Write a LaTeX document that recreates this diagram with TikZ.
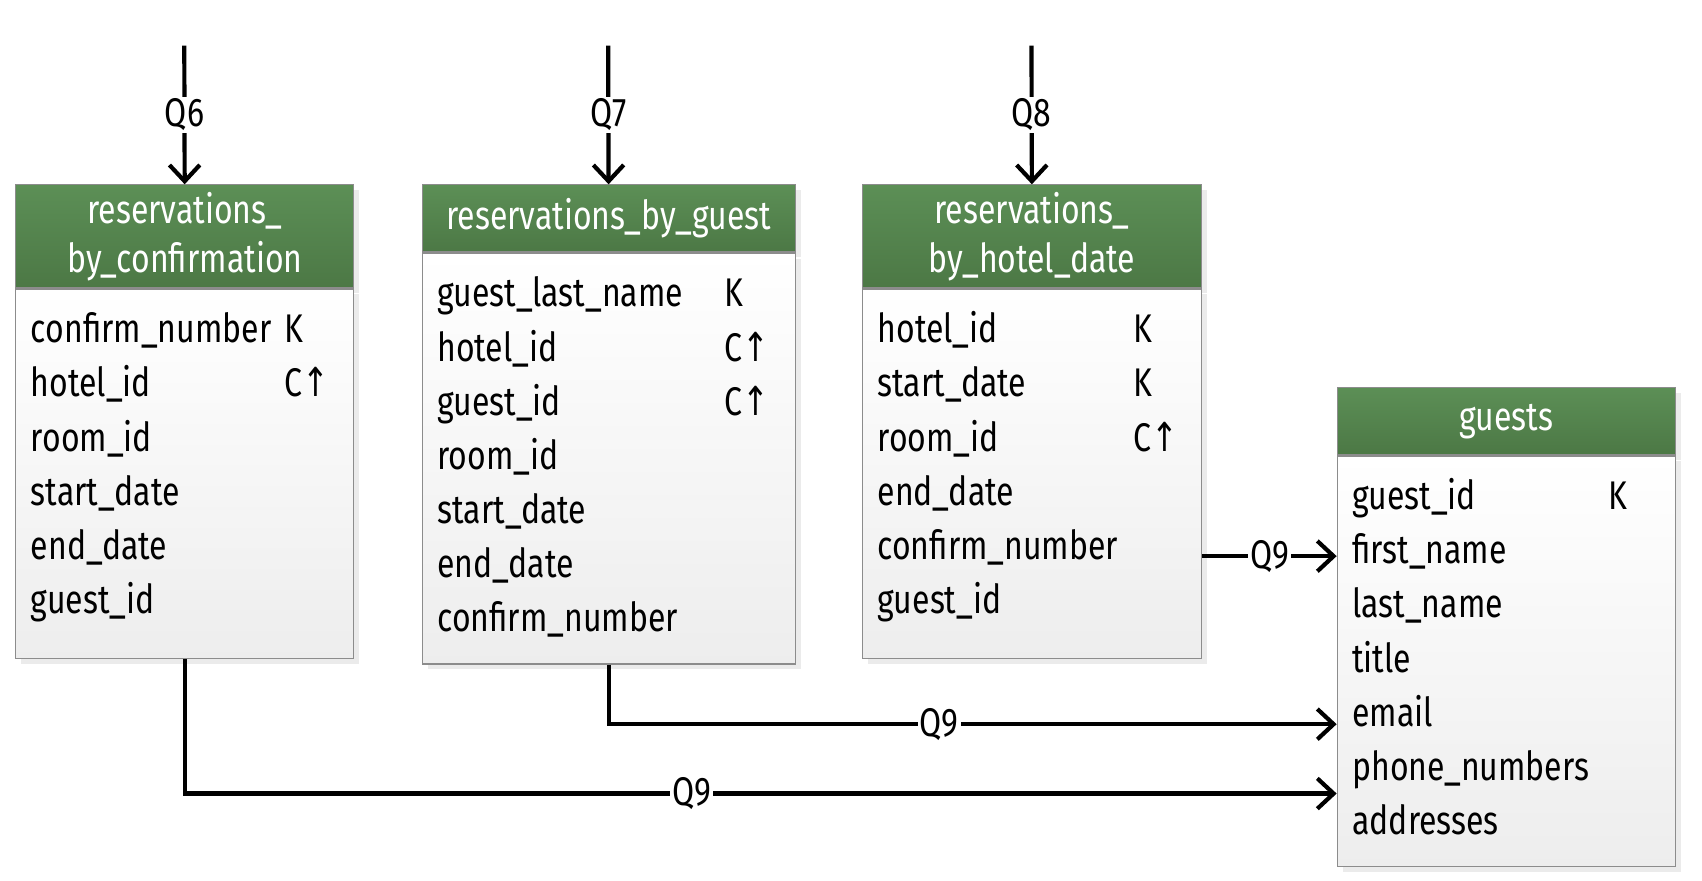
\documentclass[tikz,border=0pt]{standalone}
\usepackage{fontspec}
\setmainfont{Fira Sans}[FakeStretch=0.8]
\newfontfamily\arrowfont{DejaVu Sans}[FakeStretch=0.8]
\usepackage{array}
\usetikzlibrary{positioning,arrows.meta,shadows}
\definecolor{headtop}{HTML}{5C8F56}
\definecolor{headbottom}{HTML}{4C7845}
\begin{document}
\begin{tikzpicture}[
  x=0.02cm, y=-0.02cm,
  font=\fontsize{21}{28.45}\selectfont,
  tablehead/.style={draw=black!45, line width=0.6pt, top color=headtop, bottom color=headbottom,
    text=white, align=center, anchor=north west, inner sep=0pt, minimum height=1.24cm,
    font=\fontsize{21}{25.6}\selectfont,
    general shadow={fill=black!8, shadow xshift=0.1cm, shadow yshift=-0.1cm}},
  tablebody/.style={draw=black!45, line width=0.6pt, top color=white, bottom color=black!7,
    inner xsep=0.28cm, inner ysep=0.29cm,
    general shadow={fill=black!8, shadow xshift=0.1cm, shadow yshift=-0.1cm}},
  conn/.style={line width=2.2pt, -{Straight Barb[length=0.3cm, width=0.56cm, line width=2.2pt]}},
  qlabel/.style={fill=white, inner sep=1pt}
  ]

  \useasboundingbox (0,0) rectangle (1570,812);

  % Tables
  \node (confhead) [tablehead, minimum width=6.24cm, minimum height=1.9cm] at (14,170)
    {reservations\_\\by\_confirmation};
  \node (confbody) [tablebody, minimum width=6.24cm, below=0pt of confhead]
    {\begin{tabular}{@{}p{4.68cm}@{}p{1cm}@{}}
      confirm\_number & K\\
      hotel\_id & C{\arrowfont ↑}\\
      room\_id & \\
      start\_date & \\
      end\_date & \\
      guest\_id & \\[0.24cm]
    \end{tabular}};

  \node (rghead) [tablehead, minimum width=6.88cm] at (389,170) {reservations\_by\_guest};
  \node (rgbody) [tablebody, minimum width=6.88cm, below=0pt of rghead]
    {\begin{tabular}{@{}p{5.3cm}@{}p{1.02cm}@{}}
      guest\_last\_name & K\\
      hotel\_id & C{\arrowfont ↑}\\
      guest\_id & C{\arrowfont ↑}\\
      room\_id & \\
      start\_date & \\
      end\_date & \\
      confirm\_number & \\
    \end{tabular}};

  \node (hdhead) [tablehead, minimum width=6.26cm, minimum height=1.9cm] at (795,170)
    {reservations\_\\by\_hotel\_date};
  \node (hdbody) [tablebody, minimum width=6.26cm, below=0pt of hdhead]
    {\begin{tabular}{@{}p{4.72cm}@{}p{0.98cm}@{}}
      hotel\_id & K\\
      start\_date & K\\
      room\_id & C{\arrowfont ↑}\\
      end\_date & \\
      confirm\_number & \\
      guest\_id & \\[0.24cm]
    \end{tabular}};

  \node (ghead) [tablehead, minimum width=6.24cm] at (1233,357) {guests};
  \node (gbody) [tablebody, minimum width=6.24cm, below=0pt of ghead]
    {\begin{tabular}{@{}p{4.72cm}@{}p{0.96cm}@{}}
      guest\_id & K\\
      first\_name & \\
      last\_name & \\
      title & \\
      email & \\
      phone\_numbers & \\
      addresses & \\
    \end{tabular}};

  % Query entry points
  \coordinate (q6) at (170,42);
  \coordinate (q7) at (561,42);
  \coordinate (q8) at (951.5,42);
  \coordinate (rowfirst) at (0,513);
  \coordinate (rowemail) at (0,668);
  \coordinate (rowaddr) at (0,732);

  % Connections
  \draw[conn] (q6) -- node[qlabel] {Q6} (confhead);
  \draw[conn] (q7) -- node[qlabel] {Q7} (rghead);
  \draw[conn] (q8) -- node[qlabel] {Q8} (hdhead);
  \draw[conn] (hdbody.east |- rowfirst) -- node[qlabel] {Q9} (gbody.west |- rowfirst);
  \draw[conn] (rgbody.south) |- node[qlabel, pos=0.727] {Q9} (gbody.west |- rowemail);
  \draw[conn] (confbody.south) |- node[qlabel, pos=0.72] {Q9} (gbody.west |- rowaddr);

\end{tikzpicture}
\end{document}
